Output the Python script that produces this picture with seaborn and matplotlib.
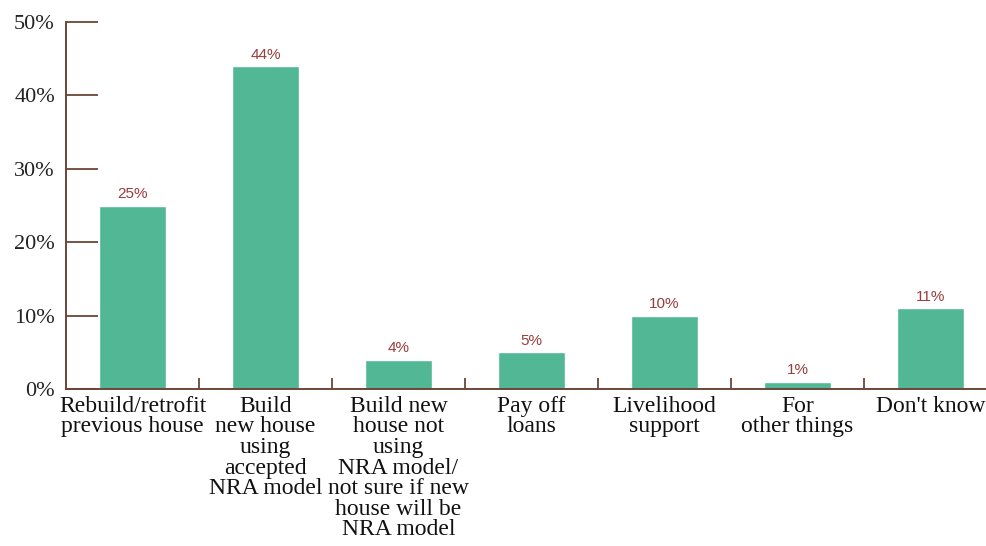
import matplotlib
matplotlib.use("Agg")
import matplotlib.pyplot as plt
from matplotlib.ticker import FixedLocator
import seaborn as sns
import pandas as pd

categories = [
    "Rebuild/retrofit\nprevious house",
    "Build\nnew house\nusing\naccepted\nNRA model",
    "Build new\nhouse not\nusing\nNRA model/\nnot sure if new\nhouse will be\nNRA model",
    "Pay off\nloans",
    "Livelihood\nsupport",
    "For\nother things",
    "Don't know",
]
values = [25, 44, 4, 5, 10, 1, 11]
y_ticks = [0, 10, 20, 30, 40, 50]
y_tick_labels = ["0%", "10%", "20%", "30%", "40%", "50%"]

bar_color = "#52b795"
axis_color = "#6b4636"
label_color = "#983c3c"

sns.set_theme(style="white")
plt.rcParams["font.family"] = ["Liberation Serif", "DejaVu Serif"]

df = pd.DataFrame({"category": categories, "value": values})

fig = plt.figure(figsize=(9.87, 5.46), dpi=100)
ax = fig.add_axes([66 / 987, 1 - 389 / 546, 931 / 987, (389 - 22) / 546])

sns.barplot(data=df, x="category", y="value", color=bar_color, width=0.5,
            saturation=1, ax=ax)

for i, v in enumerate(values):
    ax.text(i, v + 0.6, f"{v}%", ha="center", va="bottom", fontsize=11,
            color=label_color, family=["Liberation Sans", "DejaVu Sans"])

ax.set_xlim(-0.5, len(categories) - 0.5)
ax.set_ylim(0, 50)
ax.set_xlabel("")
ax.set_ylabel("")

ax.set_yticks(y_ticks)
ax.set_yticklabels(y_tick_labels, fontsize=16, color="#222222")
ax.tick_params(axis="y", which="major", left=True, direction="in", length=23,
               width=1.3, color=axis_color, pad=8)

ax.set_xticks(range(len(categories)))
ax.set_xticklabels(categories, fontsize=17, color="#111111", linespacing=0.97, va="top")
ax.tick_params(axis="x", which="major", length=0, pad=5)
ax.xaxis.set_minor_locator(FixedLocator([i + 0.5 for i in range(len(categories))]))
ax.tick_params(axis="x", which="minor", direction="in", length=8, width=1.3,
               color=axis_color, bottom=True)

for side in ["top", "right"]:
    ax.spines[side].set_visible(False)
for side in ["left", "bottom"]:
    ax.spines[side].set_color(axis_color)
    ax.spines[side].set_linewidth(1.4)

fig.savefig("out.png", dpi=100)
